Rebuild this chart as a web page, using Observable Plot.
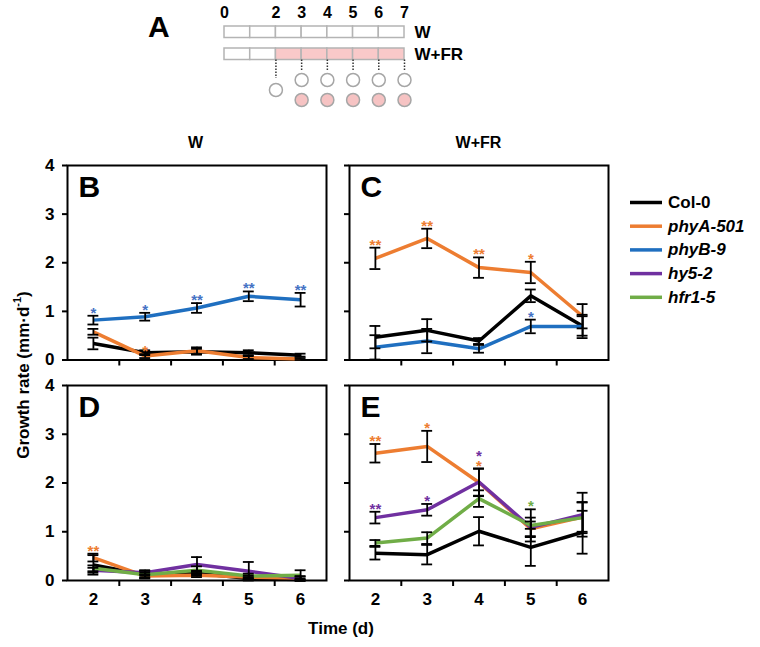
<!DOCTYPE html>
<html>
<head>
<meta charset="utf-8">
<script src="https://cdn.jsdelivr.net/npm/d3@7"></script>
<script src="https://cdn.jsdelivr.net/npm/@observablehq/plot@0.6"></script>
<style>
  body { margin: 0; background: #fff; }
  #root { position: relative; width: 760px; height: 647px; overflow: hidden; font-family: "Liberation Sans", Arial, sans-serif; }
  #root > * { position: absolute; }
</style>
</head>
<body>
<div id="root"></div>
<script>
// ---------------- data ----------------
const days = [2, 3, 4, 5, 6];
const seriesNames = ["Col-0", "phyA-501", "phyB-9", "hy5-2", "hfr1-5"];
const seriesColors = ["#000000", "#ED7D31", "#1F6FC0", "#7030A0", "#70AD47"];
const starColors = ["#000000", "#ED7D31", "#4472C4", "#7030A0", "#70AD47"];
const italicNames = [false, true, true, true, true];

// Panel B (W, continuous white light)
const B_col0 = [0.34, 0.15, 0.17, 0.15, 0.10];
const B_col0_se = [0.12, 0.05, 0.06, 0.05, 0.03];
const B_phyA = [0.58, 0.08, 0.19, 0.05, 0.02];
const B_phyA_se = [0.06, 0.04, 0.07, 0.03, 0.02];
const B_phyB = [0.82, 0.89, 1.07, 1.31, 1.24];
const B_phyB_se = [0.09, 0.08, 0.10, 0.10, 0.14];
const B_stars = [["phyB-9", 2, "*"], ["phyB-9", 3, "*"], ["phyB-9", 4, "**"], ["phyB-9", 5, "**"], ["phyB-9", 6, "**"], ["phyA-501", 3, "*"]];

// Panel C (W+FR)
const C_col0 = [0.47, 0.61, 0.39, 1.32, 0.70];
const C_col0_se = [0.23, 0.23, 0.06, 0.13, 0.20];
const C_phyA = [2.09, 2.50, 1.90, 1.80, 0.90];
const C_phyA_se = [0.22, 0.20, 0.21, 0.22, 0.25];
const C_phyB = [0.26, 0.39, 0.23, 0.69, 0.69];
const C_phyB_se = [0.25, 0.25, 0.08, 0.14, 0.24];
const C_stars = [["phyA-501", 2, "**"], ["phyA-501", 3, "**"], ["phyA-501", 4, "**"], ["phyA-501", 5, "*"], ["phyB-9", 5, "*"]];

// Panel D (W)
const D_col0 = [0.32, 0.12, 0.15, 0.04, 0.02];
const D_col0_se = [0.20, 0.08, 0.05, 0.03, 0.02];
const D_phyA = [0.47, 0.09, 0.11, 0.07, 0.05];
const D_phyA_se = [0.08, 0.04, 0.04, 0.03, 0.03];
const D_hy5 = [0.21, 0.16, 0.33, 0.19, 0.04];
const D_hy5_se = [0.05, 0.05, 0.15, 0.19, 0.05];
const D_hfr1 = [0.25, 0.12, 0.21, 0.09, 0.11];
const D_hfr1_se = [0.06, 0.05, 0.08, 0.05, 0.10];
const D_stars = [["phyA-501", 2, "**"]];

// Panel E (W+FR)
const E_col0 = [0.56, 0.53, 1.01, 0.68, 0.99];
const E_col0_se = [0.13, 0.20, 0.29, 0.38, 0.44];
const E_phyA = [2.61, 2.75, 2.01, 1.06, 1.30];
const E_phyA_se = [0.19, 0.32, 0.28, 0.15, 0.30];
const E_hy5 = [1.29, 1.45, 2.02, 1.09, 1.35];
const E_hy5_se = [0.12, 0.12, 0.28, 0.20, 0.45];
const E_hfr1 = [0.77, 0.87, 1.68, 1.13, 1.29];
const E_hfr1_se = [0.06, 0.12, 0.17, 0.33, 0.32];
const E_stars = [["phyA-501", 2, "**"], ["phyA-501", 3, "*"], ["phyA-501", 4, "*"], ["hy5-2", 2, "**"], ["hy5-2", 3, "*"], ["hy5-2", 4, "*"], ["hfr1-5", 5, "*"]];

const yTicks = [0, 1, 2, 3, 4];
const xBoundaries = [2.5, 3.5, 4.5, 5.5];

// Panel A schematic
const scheduleDays = [0, 1, 2, 3, 4, 5, 6];      // start of each day box
const dayLabels = [0, 2, 3, 4, 5, 6, 7];
const conditions = ["W", "W+FR"];
const frStartDay = 2;
const sampleDays = [2, 3, 4, 5, 6, 7];

// ---------------- helpers ----------------
const root = document.getElementById("root");
const FONT = "Liberation Sans, Arial, sans-serif";
const starColorOf = Object.fromEntries(seriesNames.map((s, i) => [s, starColors[i]]));

function makeRows(list) {
  const rows = [];
  for (const [name, vals, ses] of list)
    days.forEach((d, i) => rows.push({series: name, day: d, value: vals[i], se: ses[i]}));
  return rows;
}

function makeStars(stars, rows) {
  const used = {};
  return stars.map(([series, day, label]) => {
    const r = rows.find(r => r.series === series && r.day === day);
    const top = r.value + r.se;
    let level = 0;
    (used[day] = used[day] || []).forEach(t => { if (Math.abs(t - top) < 0.2) level++; });
    used[day].push(top);
    return {series, day, label, y: top + level * 0.2};
  });
}

function panel({rows, stars, letter, yLabels, xLabels, left, top, width, height, margin}) {
  const starData = makeStars(stars, rows);
  const present = seriesNames.filter(s => rows.some(r => r.series === s));
  const marks = [
    Plot.frame({stroke: "black", strokeWidth: 2}),
    Plot.axisY({ticks: yTicks, tickSize: 5, tickPadding: 8, label: null, strokeWidth: 2,
      tickFormat: yLabels ? d => String(d) : () => "", fontSize: 17, fontWeight: "bold"}),
    Plot.axisX({ticks: xBoundaries, tickSize: 6, label: null, strokeWidth: 2, tickFormat: () => ""})
  ];
  if (xLabels) marks.push(Plot.axisX({ticks: days, tickSize: 0, tickPadding: 12, label: null, fontSize: 17, fontWeight: "bold", tickFormat: d => String(d)}));
  marks.push(Plot.line(rows, {x: "day", y: "value", z: "series", stroke: "series", strokeWidth: 3.5, strokeLinecap: "butt"}));
  marks.push(Plot.ruleX(rows, {x: "day", y1: d => d.value - d.se, y2: d => d.value + d.se, stroke: "black", strokeWidth: 1.8}));
  marks.push(Plot.ruleY(rows, {y: d => d.value + d.se, x1: d => d.day - 0.105, x2: d => d.day + 0.105, stroke: "black", strokeWidth: 1.8}));
  marks.push(Plot.ruleY(rows, {y: d => d.value - d.se, x1: d => d.day - 0.105, x2: d => d.day + 0.105, stroke: "black", strokeWidth: 1.8}));
  for (const s of present) {
    const sd = starData.filter(d => d.series === s);
    if (sd.length) marks.push(Plot.text(sd, {x: "day", y: "y", text: "label", fill: starColorOf[s], fontSize: 15, lineAnchor: "bottom", dy: 2}));
  }
  marks.push(Plot.text([letter], {frameAnchor: "top-left", dx: 11, dy: 10, fontSize: 30, fontWeight: "bold", lineAnchor: "top"}));
  const svg = Plot.plot({
    width, height,
    marginLeft: margin[0], marginRight: margin[1], marginTop: margin[2], marginBottom: margin[3],
    x: {domain: [1.5, 6.5]},
    y: {domain: [0, 4]},
    color: {domain: seriesNames, range: seriesColors},
    style: {fontFamily: FONT, fontWeight: "bold", fontSize: "17px", color: "black", background: "transparent", overflow: "visible"},
    marks
  });
  svg.style.left = left + "px";
  svg.style.top = top + "px";
  root.appendChild(svg);
}

// ---------------- panels B–E ----------------
const rowsB = makeRows([["Col-0", B_col0, B_col0_se], ["phyA-501", B_phyA, B_phyA_se], ["phyB-9", B_phyB, B_phyB_se]]);
const rowsC = makeRows([["Col-0", C_col0, C_col0_se], ["phyA-501", C_phyA, C_phyA_se], ["phyB-9", C_phyB, C_phyB_se]]);
const rowsD = makeRows([["Col-0", D_col0, D_col0_se], ["phyA-501", D_phyA, D_phyA_se], ["hy5-2", D_hy5, D_hy5_se], ["hfr1-5", D_hfr1, D_hfr1_se]]);
const rowsE = makeRows([["Col-0", E_col0, E_col0_se], ["phyA-501", E_phyA, E_phyA_se], ["hy5-2", E_hy5, E_hy5_se], ["hfr1-5", E_hfr1, E_hfr1_se]]);

panel({rows: rowsB, stars: B_stars, letter: "B", yLabels: true, xLabels: false, left: 0, top: 120, width: 330, height: 260, margin: [67, 4, 45, 20.5]});
panel({rows: rowsC, stars: C_stars, letter: "C", yLabels: false, xLabels: false, left: 330, top: 120, width: 290, height: 260, margin: [19, 12, 45, 20.5]});
panel({rows: rowsD, stars: D_stars, letter: "D", yLabels: true, xLabels: true, left: 0, top: 370, width: 330, height: 250, margin: [67, 4, 15, 40]});
panel({rows: rowsE, stars: E_stars, letter: "E", yLabels: false, xLabels: true, left: 330, top: 370, width: 290, height: 250, margin: [19, 12, 15, 40]});

// ---------------- panel A schematic ----------------
const rowTop = {"W": 26, "W+FR": 48};
const rowH = 11.5;
const boxes = [];
for (const c of conditions) for (const d of scheduleDays) boxes.push({cond: c, d, fr: c === "W+FR" && d >= frStartDay});
const circles = [];
for (const d of sampleDays) {
  if (d === frStartDay) circles.push({d, level: 89.5, fr: false});
  else { circles.push({d, level: 79.5, fr: false}); circles.push({d, level: 99.5, fr: true}); }
}
const schematic = Plot.plot({
  width: 760, height: 112,
  marginLeft: 224, marginRight: 356, marginTop: 0, marginBottom: 0,
  x: {domain: [0, 7], axis: null},
  y: {domain: [0, 112], range: [0, 112], axis: null},
  style: {fontFamily: FONT, fontWeight: "bold", fontSize: "16px", color: "black", background: "transparent", overflow: "visible"},
  marks: [
    Plot.rect(boxes, {x1: "d", x2: d => d.d + 1, y1: d => rowTop[d.cond], y2: d => rowTop[d.cond] + rowH,
      fill: d => d.fr ? "#F9C9C9" : "white", stroke: "#B4B4B4", strokeWidth: 1.5}),
    Plot.text(dayLabels, {x: d => d, y: 12, text: d => String(d), fontSize: 16, fontWeight: "bold"}),
    Plot.text(conditions, {x: 7, y: c => rowTop[c] + rowH / 2, text: c => c, textAnchor: "start", dx: 10, fontSize: 17, fontWeight: "bold"}),
    Plot.ruleX(sampleDays, {x: d => d, y1: rowTop["W+FR"] + rowH, y2: d => d === frStartDay ? 78 : 71, stroke: "#333", strokeWidth: 1.5, strokeDasharray: "1.5,1.5"}),
    Plot.dot(circles, {x: "d", y: "level", r: 6.5, fill: d => d.fr ? "#F6C3C3" : "white", stroke: "#A6A6A6", strokeWidth: 1.5})
  ]
});
schematic.style.left = "0px";
schematic.style.top = "0px";
root.appendChild(schematic);

// ---------------- static labels & legend ----------------
const overlay = d3.create("svg").attr("width", 760).attr("height", 647)
  .style("left", "0px").style("top", "0px").style("pointer-events", "none")
  .style("font-family", FONT).style("font-weight", "bold");
overlay.append("text").attr("x", 148).attr("y", 37).attr("font-size", 30).text("A");
overlay.append("text").attr("x", 195.5).attr("y", 142).attr("text-anchor", "middle").attr("dominant-baseline", "central").attr("font-size", 16).text("W");
overlay.append("text").attr("x", 478.5).attr("y", 142).attr("text-anchor", "middle").attr("dominant-baseline", "central").attr("font-size", 16).text("W+FR");
overlay.append("text").attr("x", 341).attr("y", 628).attr("text-anchor", "middle").attr("dominant-baseline", "central").attr("font-size", 17).text("Time (d)");
const yl = overlay.append("text").attr("transform", "translate(23,375) rotate(-90)").attr("text-anchor", "middle").attr("dominant-baseline", "central").attr("font-size", 17);
yl.append("tspan").text("Growth rate (mm·d");
yl.append("tspan").attr("font-size", 11).attr("dy", -6).text("-1");
yl.append("tspan").attr("dy", 6).text(")");

const leg = overlay.append("g");
seriesNames.forEach((s, i) => {
  const y = 202.5 + i * 23.7;
  leg.append("line").attr("x1", 630).attr("x2", 662).attr("y1", y).attr("y2", y).attr("stroke", seriesColors[i]).attr("stroke-width", 3.5);
  leg.append("text").attr("x", 668).attr("y", y).attr("dominant-baseline", "central").attr("font-size", 17)
    .attr("font-style", italicNames[i] ? "italic" : "normal").text(s);
});
root.appendChild(overlay.node());
</script>
</body>
</html>
